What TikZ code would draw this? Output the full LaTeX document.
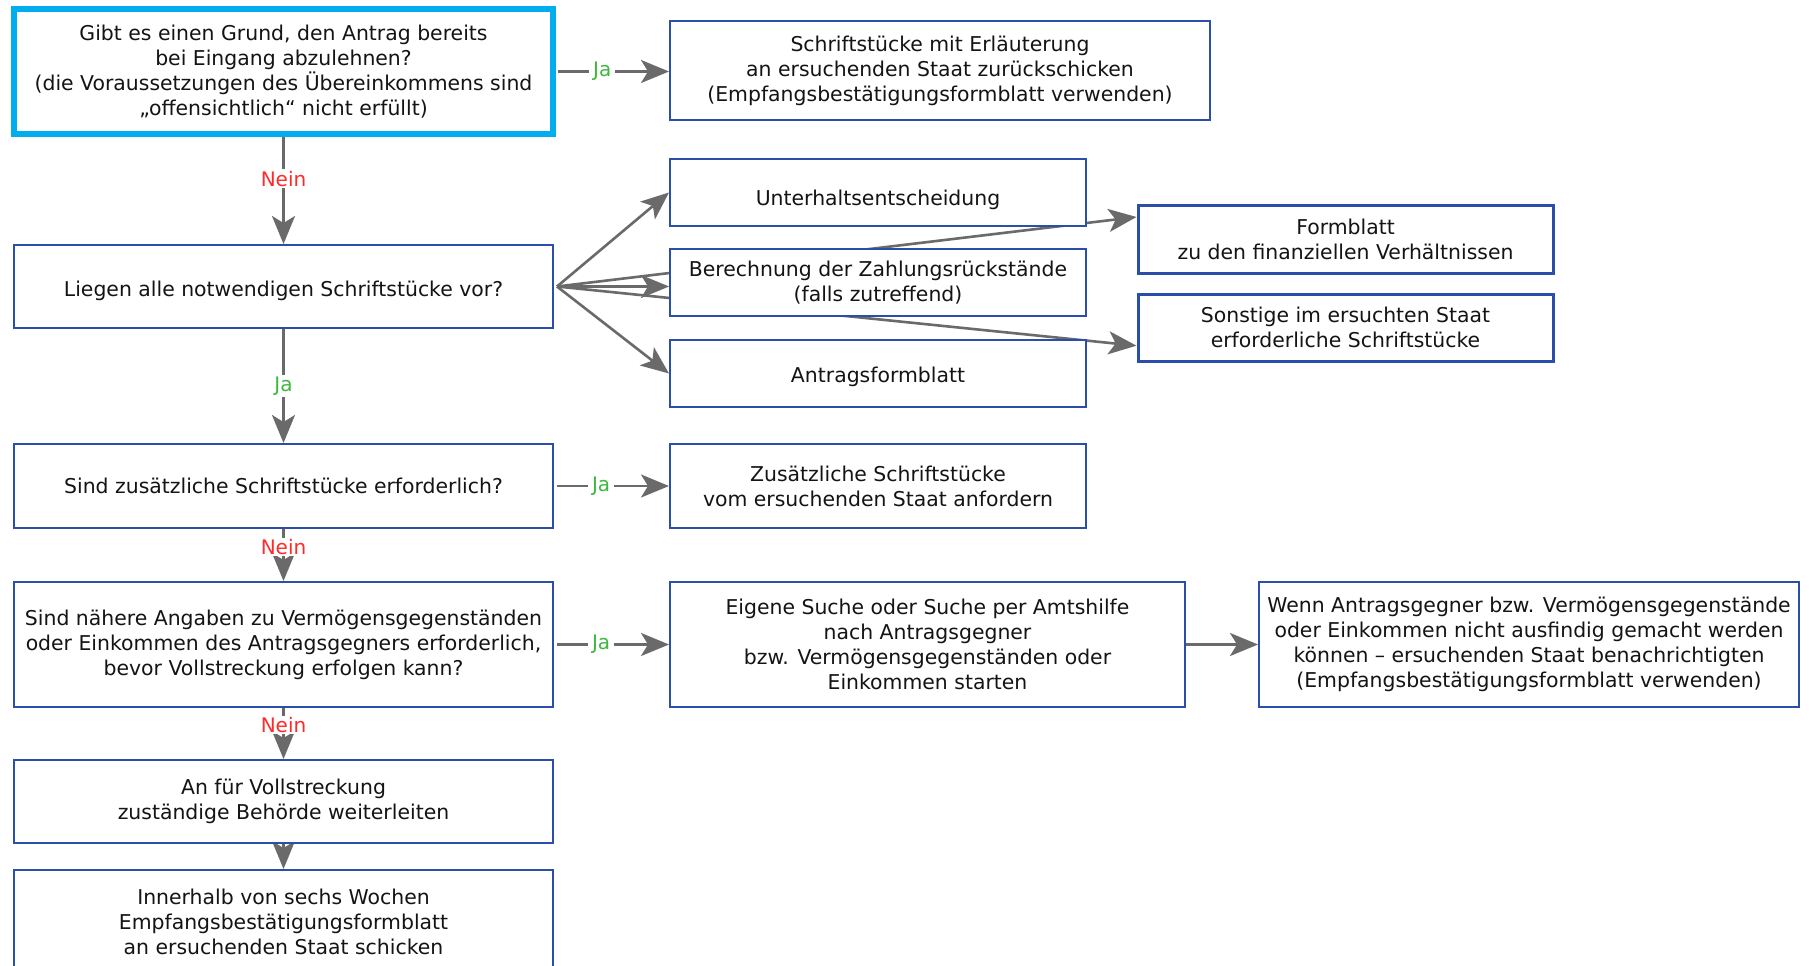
\documentclass[tikz,border=0pt]{standalone}
\usepackage{fontspec}
\setmainfont{DejaVu Sans}
\usetikzlibrary{arrows.meta,calc}
\pgfdeclarelayer{back}
\pgfdeclarelayer{bg}
\pgfsetlayers{back,bg,main}
\definecolor{boxblue}{HTML}{2B4EA8}
\definecolor{cyanb}{HTML}{00AEEF}
\definecolor{arrowgray}{HTML}{6A6A6A}
\definecolor{jagreen}{HTML}{3DB83D}
\definecolor{neinred}{HTML}{FF2B2B}
\definecolor{txt}{HTML}{141414}
\newcommand{\lowertext}[2]{\raisebox{-#1}[\height][\depth]{#2}}
\begin{document}
\begin{tikzpicture}[x=1pt,y=-1pt,
  box/.style={draw=boxblue, line width=2pt, fill=white, align=center, inner sep=0pt,
    font=\fontsize{20.4pt}{25pt}\selectfont, text=txt},
  conn/.style={draw=arrowgray, line width=2.6pt, -{Stealth[length=28pt,width=23pt,inset=7pt]}},
  lbl/.style={fill=white, inner xsep=4pt, inner ysep=1.5pt, font=\fontsize{20pt}{23pt}\selectfont},
  ja/.style={lbl, text=jagreen},
  nein/.style={lbl, text=neinred},
]
\useasboundingbox (0,0) rectangle (1809,966);
\begin{pgfonlayer}{back}
\fill[white] (0,0) rectangle (1809,966);
\end{pgfonlayer}

\node[box, draw=cyanb, line width=5.5pt, minimum width=539pt, minimum height=125pt] (q1) at (283.5,71.5)
  {Gibt es einen Grund, den Antrag bereits\\bei Eingang abzulehnen?\\(die Voraussetzungen des Übereinkommens sind\\„offensichtlich“ nicht erfüllt)};
\node[box, minimum width=540pt, minimum height=99pt] (ret) at (940,70.5)
  {Schriftstücke mit Erläuterung\\an ersuchenden Staat zurückschicken\\(Empfangsbestätigungsformblatt verwenden)};
\node[box, minimum width=539pt, minimum height=83pt] (q2) at (283.5,286.5)
  {\lowertext{4.5pt}{Liegen alle notwendigen Schriftstücke vor?}};
\node[box, minimum width=416pt, minimum height=67pt] (unt) at (878,192.5)
  {\lowertext{7pt}{Unterhaltsentscheidung}};
\node[box, minimum width=416pt, minimum height=67pt] (ber) at (878,282.5)
  {Berechnung der Zahlungsrückstände\\(falls zutreffend)};
\node[box, minimum width=416pt, minimum height=67pt] (ant) at (878,373.5)
  {\lowertext{3.5pt}{Antragsformblatt}};
\node[box, line width=3pt, minimum width=415pt, minimum height=68pt] (form) at (1345.5,239)
  {Formblatt\\zu den finanziellen Verhältnissen};
\node[box, line width=3pt, minimum width=415pt, minimum height=67pt] (sonst) at (1345.5,327.5)
  {Sonstige im ersuchten Staat\\erforderliche Schriftstücke};
\node[box, minimum width=539pt, minimum height=84pt] (q3) at (283.5,486)
  {Sind zusätzliche Schriftstücke erforderlich?};
\node[box, minimum width=416pt, minimum height=84pt] (zus) at (878,486)
  {Zusätzliche Schriftstücke\\vom ersuchenden Staat anfordern};
\node[box, minimum width=539pt, minimum height=125pt] (q4) at (283.5,644.5)
  {Sind nähere Angaben zu Vermögensgegenständen\\oder Einkommen des Antragsgegners erforderlich,\\bevor Vollstreckung erfolgen kann?};
\node[box, minimum width=515pt, minimum height=125pt] (eig) at (927.5,644.5)
  {Eigene Suche oder Suche per Amtshilfe\\nach Antragsgegner\\bzw. Vermögensgegenständen oder\\Einkommen starten};
\node[box, minimum width=540pt, minimum height=125pt] (wenn) at (1529,644.5)
  {Wenn Antragsgegner bzw. Vermögensgegenstände\\oder Einkommen nicht ausfindig gemacht werden\\können – ersuchenden Staat benachrichtigten\\(Empfangsbestätigungsformblatt verwenden)};
\node[box, minimum width=539pt, minimum height=83pt] (an) at (283.5,801.5)
  {An für Vollstreckung\\zuständige Behörde weiterleiten};
\node[box, minimum width=539pt, minimum height=104pt] (inn) at (283.5,922)
  {Innerhalb von sechs Wochen\\Empfangsbestätigungsformblatt\\an ersuchenden Staat schicken};

\begin{pgfonlayer}{bg}
\coordinate (fan) at ($(q2.east)+(3,0)$);
\draw[conn, shorten <=2pt] (q1.east) -- node[ja,pos=0.41]{Ja} (q1.east -| ret.west);
\draw[conn] (q1.south) -- node[nein,pos=0.39]{Nein} (q2.north);
\draw[conn] (fan) -- (unt.west);
\draw[conn] (fan) -- (fan -| ber.west);
\draw[conn] (fan) -- ($(form.north west)!0.19!(form.south west)$);
\draw[conn] (fan) -- ($(sonst.north west)!0.76!(sonst.south west)$);
\draw[conn] (fan) -- (ant.west);
\draw[conn] (q2.south) -- node[ja,pos=0.5]{Ja} (q3.north);
\draw[conn, shorten <=3pt] (q3.east) -- node[ja,pos=0.41]{Ja} (q3.east -| zus.west);
\draw[conn] (q3.south) -- node[nein,pos=0.35]{Nein} (q4.north);
\draw[conn, shorten <=3pt] (q4.east) -- node[ja,pos=0.41]{Ja} (q4.east -| eig.west);
\draw[conn] (eig.east) -- (wenn.west);
\draw[conn] (q4.south) -- node[nein,pos=0.33]{Nein} (an.north);
\draw[conn] (an.south) -- (inn.north);
\end{pgfonlayer}
\end{tikzpicture}
\end{document}
